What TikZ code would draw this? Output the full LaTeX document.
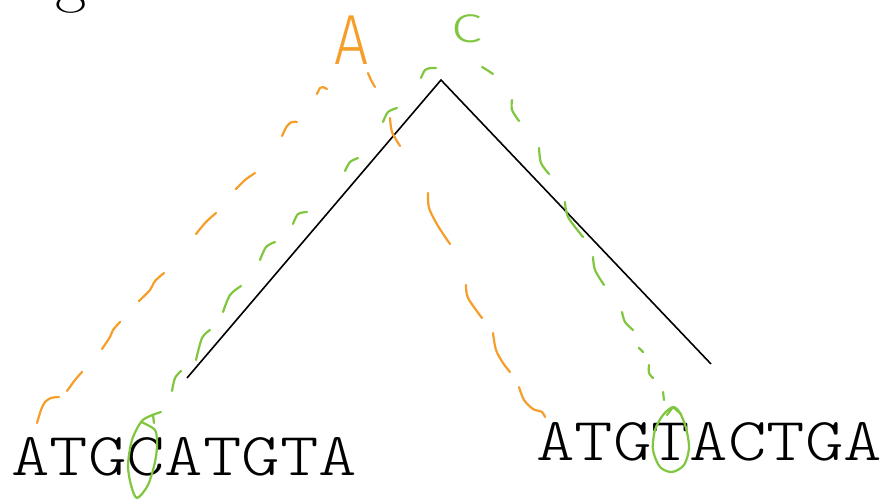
\documentclass[tikz,border=0pt]{standalone}
\usepackage{fontspec}
\newfontfamily\seqfont{lmmonolt10-regular.otf}
\newfontfamily\handfont{Fira Sans}[UprightFont=* Light]
\definecolor{ora}{RGB}{245,158,42}
\definecolor{grn}{RGB}{128,198,62}
\begin{document}
\begin{tikzpicture}[x=1pt,y=-1pt,
  treeline/.style={draw=black,line width=1.6pt},
  ostroke/.style={draw=ora,line width=2.2pt,line cap=round,line join=round},
  gstroke/.style={draw=grn,line width=2.2pt,line cap=round,line join=round},
  seq/.style={inner sep=0pt,anchor=base west,xscale=1.2,font=\seqfont\fontsize{61}{61}\selectfont}]
\useasboundingbox[fill=white] (0,0) rectangle (884,500);
% partially visible letter at top left
\node[inner sep=0pt,anchor=base,font=\fontsize{68}{68}\selectfont] (gtop) at (71,0) {g};
% tree
\coordinate (apex) at (441,80);
\coordinate (leafL) at (187,378);
\coordinate (leafR) at (711,364);
\draw[treeline] (leafL) -- (apex) -- (leafR);
% sequences
\node[seq] (seqL) at (11,475) {ATGCATGTA};
\node[seq] (seqR) at (536,460) {ATGTACTGA};
% hand labels
\node[inner sep=0pt,anchor=base,text=ora,xscale=0.85,font=\handfont\fontsize{71}{71}\selectfont] (labA) at (352,65) {A};
\node[inner sep=0pt,anchor=base,text=grn,xscale=1.4,font=\handfont\fontsize{40}{40}\selectfont] (labC) at (467,43) {C};
% orange dashed strokes
\draw[ostroke] plot[smooth] coordinates {(37,423) (41,410) (45,402) (51,398) (59,397)};
\draw[ostroke] plot[smooth] coordinates {(67,391) (75,380) (82,372)};
\draw[ostroke] plot[smooth] coordinates {(102,349) (110,337) (113,330) (120,322)};
\draw[ostroke] plot[smooth] coordinates {(139,301) (150,290) (155,281) (164,273)};
\draw[ostroke] plot[smooth] coordinates {(196,234) (206,222) (216,213)};
\draw[ostroke] plot[smooth] coordinates {(236,189) (245,180) (255,173)};
\draw[ostroke] plot[smooth] coordinates {(282,136) (287,126) (292,122) (297,122)};
\draw[ostroke] plot[smooth] coordinates {(317,94) (320,88) (323,87) (327,89)};
\draw[ostroke] plot[smooth] coordinates {(368,73) (371,80) (375,87)};
\draw[ostroke] plot[smooth] coordinates {(390,118) (392,132) (400,146)};
\draw[ostroke] plot[smooth] coordinates {(428,193) (429,208) (438,226) (450,244)};
\draw[ostroke] plot[smooth] coordinates {(466,285) (468,298) (482,318)};
\draw[ostroke] plot[smooth] coordinates {(493,333) (496,350) (503,363) (510,372)};
\draw[ostroke] plot[smooth] coordinates {(519,387) (524,400) (533,409) (542,412) (545,417)};
% green dashed strokes, left branch
\draw[gstroke] plot[smooth] coordinates {(421,78) (425,70) (431,68) (436,68)};
\draw[gstroke] plot[smooth] coordinates {(383,122) (388,112) (397,108)};
\draw[gstroke] plot[smooth] coordinates {(345,171) (350,162) (358,158)};
\draw[gstroke] plot[smooth] coordinates {(293,224) (298,214) (307,212)};
\draw[gstroke] plot[smooth] coordinates {(260,260) (266,247) (275,242)};
\draw[gstroke] plot[smooth] coordinates {(223,312) (230,295) (241,286)};
\draw[gstroke] plot[smooth] coordinates {(196,360) (202,338) (210,330)};
\draw[gstroke] plot[smooth] coordinates {(172,391) (175,378) (181,371)};
% lasso round C
\draw[gstroke] plot[smooth] coordinates {(161,412) (150,416) (141,422) (132,440) (128,465) (131,485) (137,498) (148,485) (155,462) (157,445) (155,430) (141,422)};
\draw[gstroke] (153,415) -- (154,423);
% green dashed strokes, right branch
\draw[gstroke] plot[smooth] coordinates {(482,67) (487,70) (493,74)};
\draw[gstroke] plot[smooth] coordinates {(512,100) (512,110) (519,121)};
\draw[gstroke] plot[smooth] coordinates {(539,148) (541,163) (549,174)};
\draw[gstroke] plot[smooth] coordinates {(565,202) (568,217) (583,237)};
\draw[gstroke] plot[smooth] coordinates {(593,257) (595,270) (604,285)};
\draw[gstroke] plot[smooth] coordinates {(622,312) (625,322) (633,330)};
\draw[gstroke] (639,348) -- (643,352);
\draw[gstroke] plot[smooth] coordinates {(649,365) (649,373) (653,378)};
\draw[gstroke] (663,392) -- (664,400);
% lasso round T
\draw[gstroke] plot[smooth cycle] coordinates {(673,407) (680,413) (686,428) (689,448) (684,465) (672,472) (660,467) (653,450) (655,430) (663,415)};
\draw[gstroke] (667,415) -- (673,407) -- (681,414);
\end{tikzpicture}
\end{document}
